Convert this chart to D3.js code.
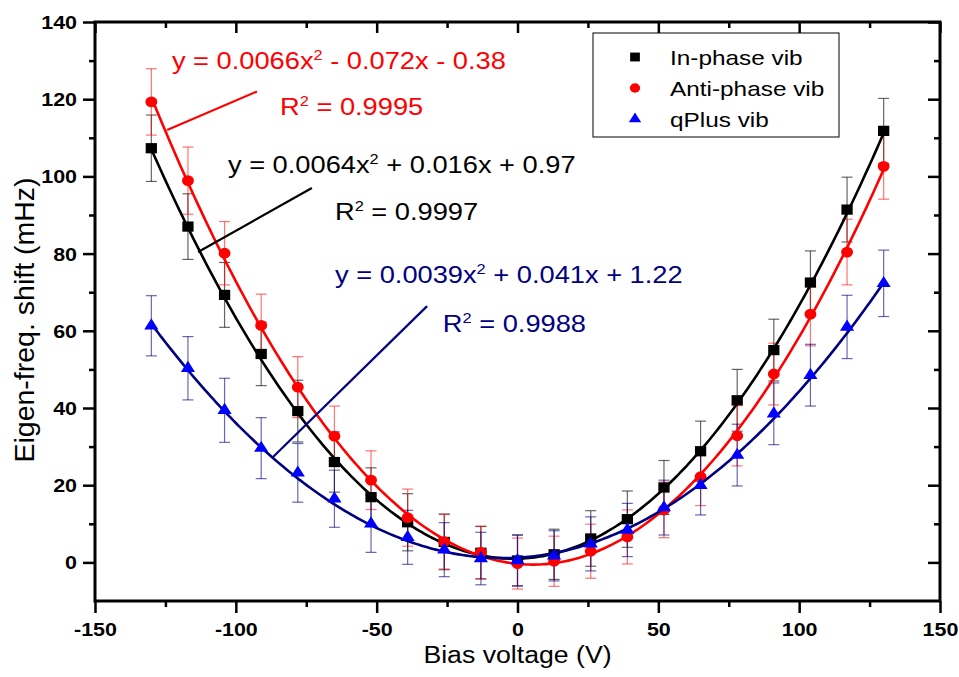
<!DOCTYPE html>
<html>
<head>
<meta charset="utf-8">
<script src="https://cdn.jsdelivr.net/npm/d3@7"></script>
<style>
  body { margin: 0; background: #fff; }
  svg text { font-family: "Liberation Sans", Arial, sans-serif; }
</style>
</head>
<body>
<svg id="chart" width="959" height="677"></svg>
<script>
// bias voltage (V)
const biasV = [-130, -117, -104, -91, -78, -65, -52, -39, -26, -13, 0, 13, 26, 39, 52, 65, 78, 91, 104, 117, 130];

// eigen-frequency shift (mHz)
const inPhase   = [107.3, 87.0, 69.3, 54.0, 39.2, 26.0, 16.9, 10.4, 5.3, 2.5, 0.5, 2.1, 6.2, 11.2, 19.4, 28.8, 42.0, 55.0, 72.5, 91.4, 111.8];
const antiPhase = [119.3, 98.9, 80.1, 61.4, 45.4, 32.7, 21.3, 11.6, 5.4, 2.6, -0.3, 0.3, 2.9, 6.6, 13.6, 22.2, 32.8, 48.8, 64.3, 80.4, 102.6];
const qPlus     = [61.3, 50.3, 39.4, 29.6, 23.2, 16.5, 10.0, 6.5, 3.3, 1.0, 0.5, 1.7, 4.8, 8.4, 14.2, 20.0, 27.8, 38.5, 48.5, 61.0, 72.3];

// error bar half widths
const errInPhase   = [8.6, 8.5, 8.4, 8.2, 8.0, 7.8, 7.6, 7.4, 7.2, 6.8, 6.6, 6.5, 7.2, 7.3, 7.0, 7.8, 8.0, 8.0, 8.2, 8.4, 8.4];
const errAntiPhase = [8.6, 8.7, 8.2, 8.1, 7.9, 7.8, 7.6, 7.4, 7.1, 6.8, 6.6, 6.5, 7.0, 7.0, 7.2, 7.5, 7.8, 8.0, 8.2, 8.5, 8.5];
const errQPlus     = [7.8, 8.2, 8.3, 7.9, 7.6, 7.4, 7.4, 7.0, 7.0, 6.8, 6.6, 6.5, 7.0, 6.9, 7.1, 7.7, 8.0, 8.0, 8.0, 8.2, 8.6];

// quadratic fit coefficients [a, b, c] : y = a x^2 + b x + c
const fitInPhase   = [0.0064, 0.016, 0.97];
const fitAntiPhase = [0.0066, -0.072, -0.38];
const fitQPlus     = [0.0039, 0.041, 1.22];

const seriesNames = ["In-phase vib", "Anti-phase vib", "qPlus vib"];
const fitLabels = ["y = 0.0064x|2| + 0.016x + 0.97", "y = 0.0066x|2| - 0.072x - 0.38", "y = 0.0039x|2| + 0.041x + 1.22"];
const r2Labels = ["R|2| = 0.9997", "R|2| = 0.9995", "R|2| = 0.9988"];

const xTicks = [-150, -100, -50, 0, 50, 100, 150];
const xMinor = [-125, -75, -25, 25, 75, 125];
const yTicks = [0, 20, 40, 60, 80, 100, 120, 140];
const yMinor = [10, 30, 50, 70, 90, 110, 130];

const svg = d3.select("#chart"),
  pLeft = 95, pRight = 940, pTop = 22, pBottom = 601,
  sx = 1.16; // horizontal stretch of the original's text

const x = d3.scaleLinear().domain([-150, 150]).range([pLeft, pRight]);
const y = d3.scaleLinear().domain([-10, 140]).range([pBottom, pTop]);

// series styling
const series = [
  { y: inPhase, err: errInPhase, fit: fitInPhase, color: "#000000", line: "#000000", errColor: "rgba(0,0,0,0.6)", shape: d3.symbolSquare, size: 105,
    eq: [-102.8, 100.9], r2: [-64.8, 88.7], lead: [[-113.4, 80.4], [-73.0, 97.0]] },
  { y: antiPhase, err: errAntiPhase, fit: fitAntiPhase, color: "#ff0000", line: "#ff0000", errColor: "rgba(255,0,0,0.55)", shape: d3.symbolCircle, size: 92,
    eq: [-122.7, 127.8], r2: [-84.3, 115.9], lead: [[-124.4, 112.0], [-92.5, 122.0]] },
  { y: qPlus, err: errQPlus, fit: fitQPlus, color: "#0000ff", line: "#000080", errColor: "rgba(0,0,128,0.6)", shape: d3.symbolTriangle, size: 72,
    eq: [-64.8, 72.4], r2: [-26.5, 59.7], lead: [[-86.8, 27.3], [-32.1, 66.4]] }
];

// ----- axes -----
function styleTicks(g, w) {
  g.select(".domain").remove();
  g.selectAll(".tick line").attr("stroke", "#000").attr("stroke-width", w);
}

const fmt = d => String(d);

svg.append("g").attr("transform", `translate(0,${pBottom})`)
  .call(d3.axisBottom(x).tickValues(xTicks).tickSize(12).tickPadding(10).tickFormat(fmt))
  .call(g => styleTicks(g, 2.5))
  .call(g => g.selectAll("text")
    .attr("font-size", 18.5).attr("font-weight", "bold").attr("fill", "#000")
    .attr("transform", `scale(${sx},1)`));
svg.append("g").attr("transform", `translate(0,${pBottom})`)
  .call(d3.axisBottom(x).tickValues(xMinor).tickSize(6).tickFormat(""))
  .call(g => styleTicks(g, 2.5));

svg.append("g").attr("transform", `translate(${pLeft},0)`)
  .call(d3.axisLeft(y).tickValues(yTicks).tickSize(12).tickFormat(fmt))
  .call(g => styleTicks(g, 2.5))
  .call(g => g.selectAll("text")
    .attr("font-size", 18.5).attr("font-weight", "bold").attr("fill", "#000")
    .attr("x", 0).attr("dy", "0.35em")
    .attr("transform", `translate(-18,0) scale(${sx},1)`));
svg.append("g").attr("transform", `translate(${pLeft},0)`)
  .call(d3.axisLeft(y).tickValues(yMinor).tickSize(6).tickFormat(""))
  .call(g => styleTicks(g, 2.5));

// inward ticks on top and right
svg.append("g").attr("transform", `translate(0,${pTop})`)
  .call(d3.axisTop(x).tickValues(xTicks).tickSize(-11).tickFormat(""))
  .call(g => styleTicks(g, 2.5));
svg.append("g").attr("transform", `translate(0,${pTop})`)
  .call(d3.axisTop(x).tickValues(xMinor).tickSize(-6).tickFormat(""))
  .call(g => styleTicks(g, 2.5));
svg.append("g").attr("transform", `translate(${pRight},0)`)
  .call(d3.axisRight(y).tickValues(yTicks).tickSize(-12).tickFormat(""))
  .call(g => styleTicks(g, 2.5));
svg.append("g").attr("transform", `translate(${pRight},0)`)
  .call(d3.axisRight(y).tickValues(yMinor).tickSize(-6).tickFormat(""))
  .call(g => styleTicks(g, 2.5));

// frame
svg.append("rect")
  .attr("x", pLeft).attr("y", pTop)
  .attr("width", pRight - pLeft).attr("height", pBottom - pTop)
  .attr("fill", "none").attr("stroke", "#000").attr("stroke-width", 3);

// axis titles
svg.append("text")
  .attr("transform", `translate(${(pLeft + pRight) / 2},663) scale(${sx},1)`)
  .attr("text-anchor", "middle").attr("font-size", 23)
  .text("Bias voltage (V)");
svg.append("text")
  .attr("transform", "translate(34,320) rotate(-90)")
  .attr("text-anchor", "middle").attr("font-size", 28.5)
  .text("Eigen-freq. shift (mHz)");

// ----- data -----
const plot = svg.append("g");

// error bars
series.forEach(s => {
  const eb = plot.append("g").attr("stroke", s.errColor).attr("stroke-width", 1.2).attr("fill", "none");
  biasV.forEach((v, i) => {
    const cx = x(v), y0 = y(s.y[i] - s.err[i]), y1 = y(s.y[i] + s.err[i]);
    eb.append("line").attr("x1", cx).attr("x2", cx).attr("y1", y0).attr("y2", y1);
    eb.append("line").attr("x1", cx - 5.5).attr("x2", cx + 5.5).attr("y1", y0).attr("y2", y0);
    eb.append("line").attr("x1", cx - 5.5).attr("x2", cx + 5.5).attr("y1", y1).attr("y2", y1);
  });
});

// fit curves and markers
const line = d3.line().x(d => x(d[0])).y(d => y(d[1]));
series.forEach(s => {
  const pts = d3.range(-130, 130.5, 1).map(v => [v, s.fit[0] * v * v + s.fit[1] * v + s.fit[2]]);
  plot.append("path").datum(pts)
    .attr("d", line).attr("fill", "none")
    .attr("stroke", s.line).attr("stroke-width", 2.6);

  plot.append("g").selectAll("path")
    .data(biasV.map((v, i) => [v, s.y[i]]))
    .join("path")
    .attr("transform", d => `translate(${x(d[0])},${y(d[1])}) scale(1.1,1)`)
    .attr("d", d3.symbol().type(s.shape).size(s.size))
    .attr("fill", s.color);
});

// annotations: leader lines, equations, R^2
function richText(g, str, fs) {
  const parts = str.split("|");
  const t = g.append("text").attr("font-size", fs);
  parts.forEach((p, i) => {
    if (i % 2 === 1) {
      t.append("tspan").attr("font-size", fs * 0.6).attr("dy", -fs * 0.38).text(p);
    } else {
      t.append("tspan").attr("dy", i === 0 ? 0 : fs * 0.38).text(p);
    }
  });
  return t;
}

series.forEach((s, k) => {
  plot.append("line")
    .attr("x1", x(s.lead[0][0])).attr("y1", y(s.lead[0][1]))
    .attr("x2", x(s.lead[1][0])).attr("y2", y(s.lead[1][1]))
    .attr("stroke", s.line).attr("stroke-width", 2.2);

  const g1 = plot.append("g").attr("transform", `translate(${x(s.eq[0])},${y(s.eq[1])}) scale(${sx},1)`);
  richText(g1, fitLabels[k], 23.5).attr("fill", s.line);
  const g2 = plot.append("g").attr("transform", `translate(${x(s.r2[0])},${y(s.r2[1])}) scale(${sx},1)`);
  richText(g2, r2Labels[k], 23.5).attr("fill", s.line);
});

// ----- legend -----
const legend = svg.append("g").attr("transform", "translate(593,33)");
legend.append("rect")
  .attr("width", 246).attr("height", 104)
  .attr("fill", "#fff").attr("stroke", "#000").attr("stroke-width", 1);

const entry = legend.selectAll("g.entry")
  .data(series)
  .join("g")
  .attr("class", "entry")
  .attr("transform", (d, i) => `translate(0,${24 + i * 31})`);

entry.append("path")
  .attr("transform", "translate(42,0) scale(1.1,1)")
  .attr("d", d => d3.symbol().type(d.shape).size(d.size * 0.75)())
  .attr("fill", d => d.color);

entry.append("text")
  .attr("transform", `translate(77,7.5) scale(${sx},1)`)
  .attr("font-size", 21)
  .text((d, i) => seriesNames[i]);
</script>
</body>
</html>
